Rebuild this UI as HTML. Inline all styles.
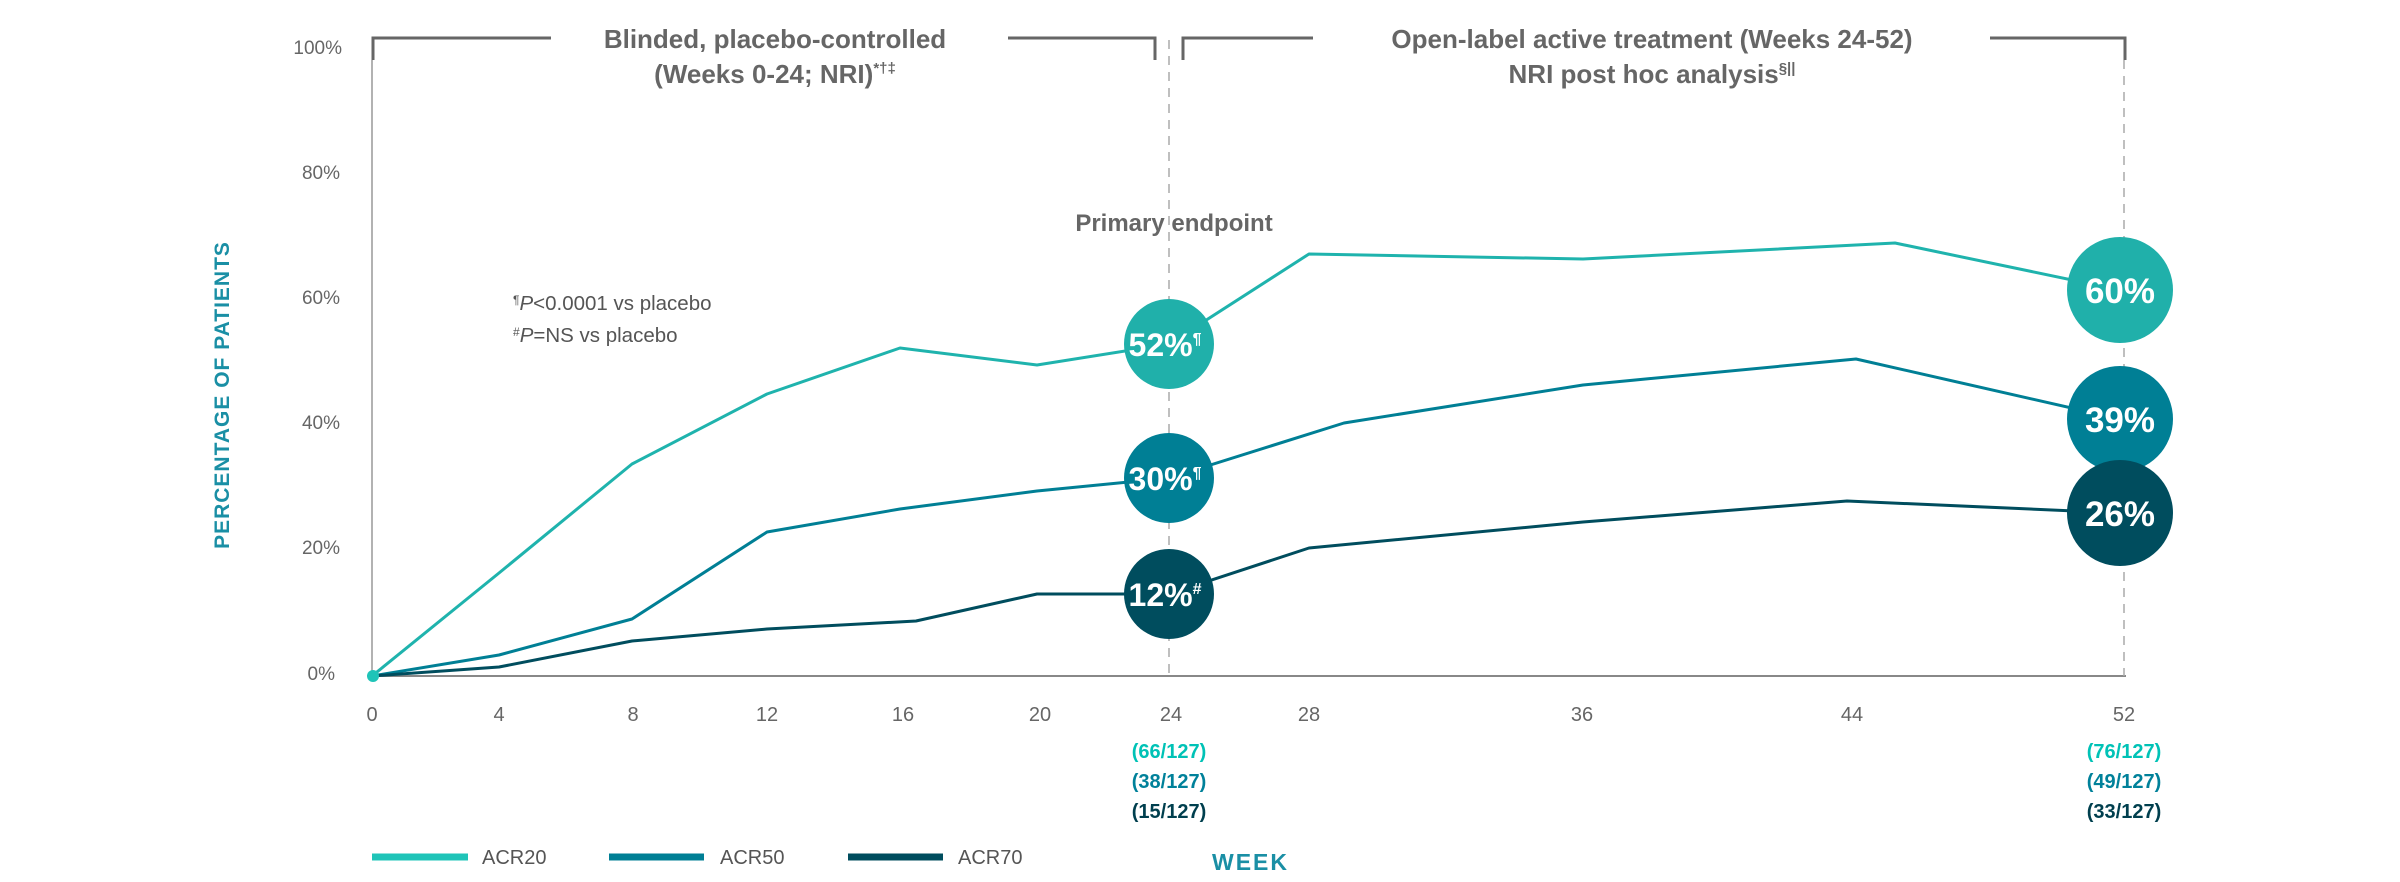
<!DOCTYPE html>
<html><head><meta charset="utf-8"><style>
html,body{margin:0;padding:0;background:#fff;}
svg{display:block;font-family:"Liberation Sans",sans-serif;}
</style></head><body>
<svg width="2400" height="882" viewBox="0 0 2400 882" xmlns="http://www.w3.org/2000/svg">
<!-- axes -->
<line x1="372" y1="60" x2="372" y2="676" stroke="#999" stroke-width="1.5"/>
<line x1="372" y1="676" x2="2126" y2="676" stroke="#888" stroke-width="2"/>
<line x1="1169" y1="40" x2="1169" y2="676" stroke="#aaa" stroke-width="1.5" stroke-dasharray="9,7"/>
<line x1="2124" y1="60" x2="2124" y2="676" stroke="#aaa" stroke-width="1.5" stroke-dasharray="9,7"/>
<!-- brackets -->
<g stroke="#666" stroke-width="3" fill="none">
<polyline points="373,60 373,38 551,38"/>
<polyline points="1008,38 1155,38 1155,60"/>
<polyline points="1183,60 1183,38 1313,38"/>
<polyline points="1990,38 2125,38 2125,60"/>
</g>
<g fill="#666" font-size="26" font-weight="bold" text-anchor="middle">
<text x="775" y="48">Blinded, placebo-controlled</text>
<text x="775" y="83">(Weeks 0-24; NRI)<tspan font-size="15" dy="-10">*†‡</tspan></text>
<text x="1652" y="48">Open-label active treatment (Weeks 24-52)</text>
<text x="1652" y="83">NRI post hoc analysis<tspan font-size="15" dy="-10">§||</tspan></text>
<text x="1174" y="231" font-size="24">Primary endpoint</text>
</g>
<g fill="#555" font-size="20.5">
<text x="513" y="310"><tspan font-size="12" dy="-6">¶</tspan><tspan dy="6" font-style="italic">P</tspan>&lt;0.0001 vs placebo</text>
<text x="513" y="342"><tspan font-size="12" dy="-6">#</tspan><tspan dy="6" font-style="italic">P</tspan>=NS vs placebo</text>
</g>
<!-- y ticks -->
<g fill="#666" font-size="19" text-anchor="end">
<text x="342" y="54">100%</text><text x="340" y="179">80%</text><text x="340" y="304">60%</text>
<text x="340" y="429">40%</text><text x="340" y="554">20%</text><text x="335" y="680">0%</text>
</g>
<text transform="translate(229,395) rotate(-90)" text-anchor="middle" fill="#1a8fa5" font-size="21" font-weight="bold" letter-spacing="1">PERCENTAGE OF PATIENTS</text>
<!-- x ticks -->
<g fill="#666" font-size="20" text-anchor="middle">
<text x="372" y="721">0</text><text x="499" y="721">4</text><text x="633" y="721">8</text><text x="767" y="721">12</text>
<text x="903" y="721">16</text><text x="1040" y="721">20</text><text x="1171" y="721">24</text><text x="1309" y="721">28</text>
<text x="1582" y="721">36</text><text x="1852" y="721">44</text><text x="2124" y="721">52</text>
</g>
<g font-size="20" font-weight="bold" text-anchor="middle">
<text x="1169" y="758" fill="#00c2b6">(66/127)</text>
<text x="1169" y="788" fill="#00819a">(38/127)</text>
<text x="1169" y="818" fill="#003f4e">(15/127)</text>
<text x="2124" y="758" fill="#00c2b6">(76/127)</text>
<text x="2124" y="788" fill="#00819a">(49/127)</text>
<text x="2124" y="818" fill="#003f4e">(33/127)</text>
</g>
<!-- series -->
<g fill="none" stroke-width="3" stroke-linejoin="round">
<polyline stroke="#1fb3ad" points="372,676 499,573 632,464 767,394 900,348 1037,365 1169,344 1309,254 1583,259 1895,243 2120,290"/>
<polyline stroke="#007f95" points="372,676 499,655 632,619 767,532 900,509 1037,491 1169,478 1344,423 1583,385 1856,359 2120,419"/>
<polyline stroke="#004d5e" points="372,676 499,667 632,641 767,629 916,621 1037,594 1169,594 1309,548 1583,522 1847,501 2120,513"/>
</g>
<circle cx="373" cy="676" r="6" fill="#1fc4b8"/>
<circle cx="1169" cy="344" r="45" fill="#20b0aa"/>
<circle cx="1169" cy="478" r="45" fill="#007f95"/>
<circle cx="1169" cy="594" r="45" fill="#004d5e"/>
<circle cx="2120" cy="290" r="53" fill="#20b0aa"/>
<circle cx="2120" cy="419" r="53" fill="#007f95"/>
<circle cx="2120" cy="513" r="53" fill="#004d5e"/>
<g fill="#fff" font-weight="bold" text-anchor="middle">
<text x="1165" y="356" font-size="32">52%<tspan font-size="16" dy="-12">¶</tspan></text>
<text x="1165" y="490" font-size="32">30%<tspan font-size="16" dy="-12">¶</tspan></text>
<text x="1165" y="606" font-size="32">12%<tspan font-size="16" dy="-12">#</tspan></text>
<text x="2120" y="303" font-size="35">60%</text>
<text x="2120" y="432" font-size="35">39%</text>
<text x="2120" y="526" font-size="35">26%</text>
</g>
<!-- legend -->
<line x1="372" y1="857" x2="468" y2="857" stroke="#1fc4b8" stroke-width="7"/>
<line x1="609" y1="857" x2="704" y2="857" stroke="#007f95" stroke-width="7"/>
<line x1="848" y1="857" x2="943" y2="857" stroke="#004d5e" stroke-width="7"/>
<g fill="#555" font-size="20">
<text x="482" y="864">ACR20</text><text x="720" y="864">ACR50</text><text x="958" y="864">ACR70</text>
</g>
<text x="1212" y="870" fill="#1a8fa5" font-size="23" font-weight="bold" letter-spacing="2">WEEK</text>
</svg>
</body></html>
